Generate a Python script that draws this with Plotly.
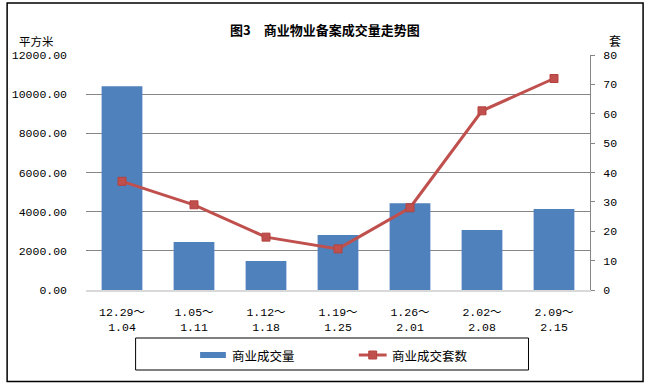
import plotly.graph_objects as go

categories = ["12.29～<br>1.04", "1.05～<br>1.11", "1.12～<br>1.18", "1.19～<br>1.25",
              "1.26～<br>2.01", "2.02～<br>2.08", "2.09～<br>2.15"]
area_values = [10400, 2450, 1480, 2810, 4430, 3060, 4140]
count_values = [37, 29, 18, 14, 28, 61, 72]
left_ticks = [0, 2000, 4000, 6000, 8000, 10000, 12000]
right_ticks = [0, 10, 20, 30, 40, 50, 60, 70, 80]

BAR = "#4F81BD"
LINE = "#C0504D"
GRID = "#868686"
NUMFONT = "Liberation Mono, Noto Sans CJK SC"
CJK = "Noto Sans CJK SC"

W, H = 650, 386
L, R, T, B = 82, 60, 55, 96
PW, PH = W - L - R, H - T - B

def px(x):
    return (x - L) / PW

def py(y):
    return (H - B - y) / PH

fig = go.Figure()
fig.add_trace(go.Bar(x=categories, y=area_values, name="商业成交量",
                     marker=dict(color=BAR, line=dict(width=0)), showlegend=False))
fig.add_trace(go.Scatter(x=categories, y=count_values, name="商业成交套数", yaxis="y2",
                         mode="lines+markers",
                         line=dict(color=LINE, width=3),
                         marker=dict(symbol="square", size=8, color=LINE,
                                     line=dict(color="#B5423F", width=1)),
                         showlegend=False))

shapes = [
    # outer border
    dict(type="rect", xref="paper", yref="paper", x0=px(2.5), x1=px(643.5),
         y0=py(381.5), y1=py(3), line=dict(color="black", width=1.5), layer="below"),
    # legend box
    dict(type="rect", xref="paper", yref="paper", x0=px(132), x1=px(528),
         y0=py(370), y1=py(338), line=dict(color="black", width=1)),
    # legend bar symbol
    dict(type="rect", xref="paper", yref="paper", x0=px(197), x1=px(223),
         y0=py(358), y1=py(352), fillcolor=BAR, line=dict(width=0)),
    # legend line symbol
    dict(type="line", xref="paper", yref="paper", x0=px(357), x1=px(385),
         y0=py(355), y1=py(355), line=dict(color=LINE, width=3)),
    dict(type="rect", xref="paper", yref="paper", x0=px(367), x1=px(375),
         y0=py(359), y1=py(351), fillcolor=LINE, line=dict(color="#B5423F", width=1)),
]

annotations = [
    dict(text="<b>图3　商业物业备案成交量走势图</b>", xref="paper", yref="paper",
         x=px(323), y=py(30), showarrow=False, xanchor="center", yanchor="middle",
         font=dict(family=CJK, size=13, color="black")),
    dict(text="平方米", xref="paper", yref="paper", x=px(32), y=py(41),
         showarrow=False, xanchor="center", yanchor="middle",
         font=dict(family=CJK, size=11.5, color="black")),
    dict(text="套", xref="paper", yref="paper", x=px(615), y=py(40),
         showarrow=False, xanchor="center", yanchor="middle",
         font=dict(family=CJK, size=12, color="black")),
    dict(text="商业成交量", xref="paper", yref="paper", x=px(227), y=py(355.5),
         showarrow=False, xanchor="left", yanchor="middle",
         font=dict(family=CJK, size=12.5, color="black")),
    dict(text="商业成交套数", xref="paper", yref="paper", x=px(388), y=py(355.5),
         showarrow=False, xanchor="left", yanchor="middle",
         font=dict(family=CJK, size=12.5, color="black")),
]

fig.update_layout(
    width=W, height=H,
    margin=dict(l=L, r=R, t=T, b=B, pad=0),
    paper_bgcolor="white", plot_bgcolor="white",
    bargap=0.434,
    showlegend=False,
    shapes=shapes,
    annotations=annotations,
    xaxis=dict(showgrid=False, showline=True, linecolor="#D9D9D9", linewidth=1.5,
               ticks="", tickfont=dict(family=NUMFONT, size=11.5, color="black"),
               ticklabelstandoff=10, zeroline=False),
    yaxis=dict(range=[0, 12000], tickvals=left_ticks,
               ticktext=[f"{v:.2f}" for v in left_ticks],
               showgrid=True, gridcolor=GRID, gridwidth=1,
               showline=False, zeroline=False, ticks="",
               tickfont=dict(family=NUMFONT, size=11.5, color="black"),
               ticklabelstandoff=18),
    yaxis2=dict(range=[0, 80], tickvals=right_ticks, overlaying="y", side="right",
                showgrid=False, showline=True, linecolor=GRID, linewidth=1,
                ticks="outside", ticklen=4, tickcolor=GRID, zeroline=False,
                tickfont=dict(family=NUMFONT, size=11.5, color="black"),
                ticklabelstandoff=6),
)

fig.write_html("out.html", config={"displayModeBar": False},
               post_script="document.body.style.margin='0';")
